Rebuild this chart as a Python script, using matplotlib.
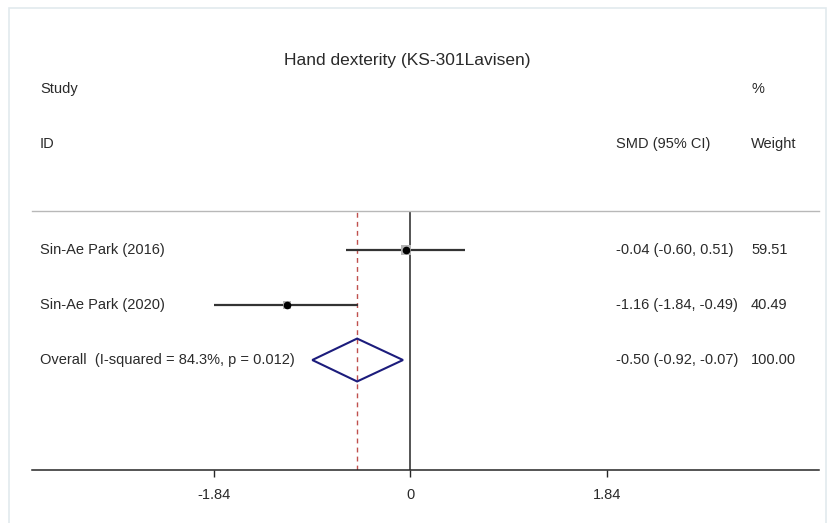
import matplotlib
matplotlib.use("Agg")
import matplotlib.pyplot as plt
from matplotlib.patches import Polygon, Rectangle
import matplotlib.transforms as mtransforms
import numpy as np

plt.rcParams['font.family'] = ['Liberation Sans', 'DejaVu Sans']

title = "Hand dexterity (KS-301Lavisen)"
studies = ["Sin-Ae Park (2016)", "Sin-Ae Park (2020)"]
smd = [-0.04, -1.16]
ci_low = [-0.60, -1.84]
ci_high = [0.51, -0.49]
weights = [59.51, 40.49]
overall_label = "Overall  (I-squared = 84.3%, p = 0.012)"
overall_smd = -0.50
overall_low = -0.92
overall_high = -0.07
overall_weight = 100.00
xticks = [-1.84, 0, 1.84]
xtick_labels = ["-1.84", "0", "1.84"]

W, H = 838, 523
fig = plt.figure(figsize=(W / 100, H / 100), dpi=100)
fig.patch.set_facecolor("white")

# light outer frame
fig.patches.append(Rectangle((9 / W, -0.05), (826 - 9) / W, 1.05 - 8 / H,
                             transform=fig.transFigure, fill=False,
                             edgecolor="#e2eaee", linewidth=1.2))

ax_left, ax_right = 32 / W, 819 / W
ax_bottom, ax_top = 1 - 470 / H, 1 - 211 / H
ax = fig.add_axes([ax_left, ax_bottom, ax_right - ax_left, ax_top - ax_bottom])
ax.set_xlim(-3.547, 3.829)
ax.set_ylim(0, 4.71)
ax.set_facecolor("none")
for s in ["left", "right"]:
    ax.spines[s].set_visible(False)
ax.spines["top"].set_color("#b8b8b8")
ax.spines["top"].set_linewidth(1.0)
ax.spines["bottom"].set_color("#262626")
ax.spines["bottom"].set_linewidth(1.1)
ax.set_yticks([])
ax.set_xticks(xticks)
ax.set_xticklabels(xtick_labels, fontsize=10.5, color="#2a2a2a")
ax.tick_params(axis="x", direction="out", length=5, width=1.0, color="#262626", pad=8)

rows = [4, 3]
overall_row = 2

# zero line
ax.axvline(0, color="#262626", linewidth=1.1, zorder=2)
# overall dashed line
ax.axvline(overall_smd, color="#c0504d", linewidth=1.0, linestyle=(0, (3.5, 3)), zorder=2)

for y, m, lo, hi, w in zip(rows, smd, ci_low, ci_high, weights):
    ax.plot([lo, hi], [y, y], color="#333333", linewidth=1.6, zorder=3, solid_capstyle="butt")
    ax.plot([m], [y], marker="s", markersize=np.sqrt(w) * 1.0, color="#b4b4b4",
            markeredgewidth=0, zorder=3.5)
    ax.plot([m], [y], marker="o", markersize=4.5, color="black", zorder=4)

dh = 0.39
diamond = Polygon([[overall_low, overall_row], [overall_smd, overall_row + dh],
                   [overall_high, overall_row], [overall_smd, overall_row - dh]],
                  closed=True, fill=False, edgecolor="#1c1c7c", linewidth=1.5, zorder=4)
ax.add_patch(diamond)

# text
tc = "#2a2a2a"
fs = 10.5
fig.text(407 / W, 1 - 60 / H, title, ha="center", va="center", fontsize=12.5, color=tc)
fig.text(40 / W, 1 - 89 / H, "Study", ha="left", va="center", fontsize=fs, color=tc)
fig.text(751 / W, 1 - 89 / H, "%", ha="left", va="center", fontsize=fs, color=tc)
fig.text(40 / W, 1 - 144 / H, "ID", ha="left", va="center", fontsize=fs, color=tc)
fig.text(616 / W, 1 - 144 / H, "SMD (95% CI)", ha="left", va="center", fontsize=fs, color=tc)
fig.text(751 / W, 1 - 144 / H, "Weight", ha="left", va="center", fontsize=fs, color=tc)

blend = mtransforms.blended_transform_factory(fig.transFigure, ax.transData)

for y, name, m, lo, hi, w in zip(rows, studies, smd, ci_low, ci_high, weights):
    fig.text(40 / W, y, name, transform=blend, ha="left", va="center", fontsize=fs, color=tc)
    fig.text(616 / W, y, f"{m:.2f} ({lo:.2f}, {hi:.2f})", transform=blend, ha="left",
             va="center", fontsize=fs, color=tc)
    fig.text(751 / W, y, f"{w:.2f}", transform=blend, ha="left", va="center",
             fontsize=fs, color=tc)

fig.text(40 / W, overall_row, overall_label, transform=blend, ha="left", va="center",
         fontsize=fs, color=tc)
fig.text(616 / W, overall_row, f"{overall_smd:.2f} ({overall_low:.2f}, {overall_high:.2f})",
         transform=blend, ha="left", va="center", fontsize=fs, color=tc)
fig.text(751 / W, overall_row, f"{overall_weight:.2f}", transform=blend, ha="left",
         va="center", fontsize=fs, color=tc)

fig.savefig("out.png", dpi=100)
